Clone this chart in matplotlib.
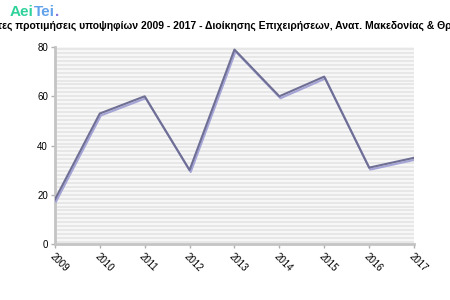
import numpy as np
import matplotlib.pyplot as plt
import matplotlib.patheffects as pe

# first preferences per year
years = [2009, 2010, 2011, 2012, 2013, 2014, 2015, 2016, 2017]
values = [18, 53, 60, 30, 79, 60, 68, 31, 35]
yticks = [0, 20, 40, 60, 80]

title = ("Πρώτες προτιμήσεις υποψηφίων 2009 - 2017 - Διοίκησης Επιχειρήσεων, "
         "Ανατ. Μακεδονίας & Θράκης")

plt.rcParams['font.family'] = ['Liberation Sans', 'DejaVu Sans']

fig = plt.figure(figsize=(4.5, 3), dpi=100)
ax = fig.add_axes([0.122, 0.187, 0.798, 0.656])

# striped background
ax.set_facecolor('#f7f7f7')
for yy in np.arange(0.8, 80, 1.6):
    ax.axhline(yy, color='#e4e4e4', lw=1.2, zorder=0)

ax.plot(years, values, color='#6f6f95', lw=1.5, zorder=3,
        path_effects=[pe.SimpleLineShadow(offset=(0.8, -1.4), shadow_color='#a4a4d6', alpha=1),
                      pe.Normal()])

ax.set_xlim(2009, 2017)
ax.set_ylim(0, 80)
ax.set_xticks(years)
ax.set_xticklabels([str(y) for y in years], rotation=-45, ha='left', va='top',
                   rotation_mode='anchor', fontsize=7)
ax.set_yticks(yticks)
ax.set_yticklabels([str(v) for v in yticks], fontsize=7)

for s in ['top', 'right']:
    ax.spines[s].set_visible(False)
for s in ['left', 'bottom']:
    ax.spines[s].set_color('#c4c4c4')
    ax.spines[s].set_linewidth(2)
ax.tick_params(colors='#b0b0b0', length=3, width=1, labelcolor='black', pad=2)

# title is wider than the chart, clipped at both sides like the original
fig.text(0.5, 0.915, title, ha='center', va='center', fontsize=7.5, fontweight='bold')

# logo
t1 = fig.text(0.022, 0.96, 'Aei', ha='left', va='center', fontsize=11, fontweight='bold', color='#2fd39a')
t2 = ax.annotate('Tei', xy=(1, 0), xycoords=t1, ha='left', va='bottom',
                 fontsize=11, fontweight='bold', color='#62a2ec', annotation_clip=False)
ax.annotate('.', xy=(1, 0), xycoords=t2, ha='left', va='bottom',
            fontsize=11, fontweight='bold', color='#8a7ae0', annotation_clip=False)

fig.savefig('out.png', dpi=100)
